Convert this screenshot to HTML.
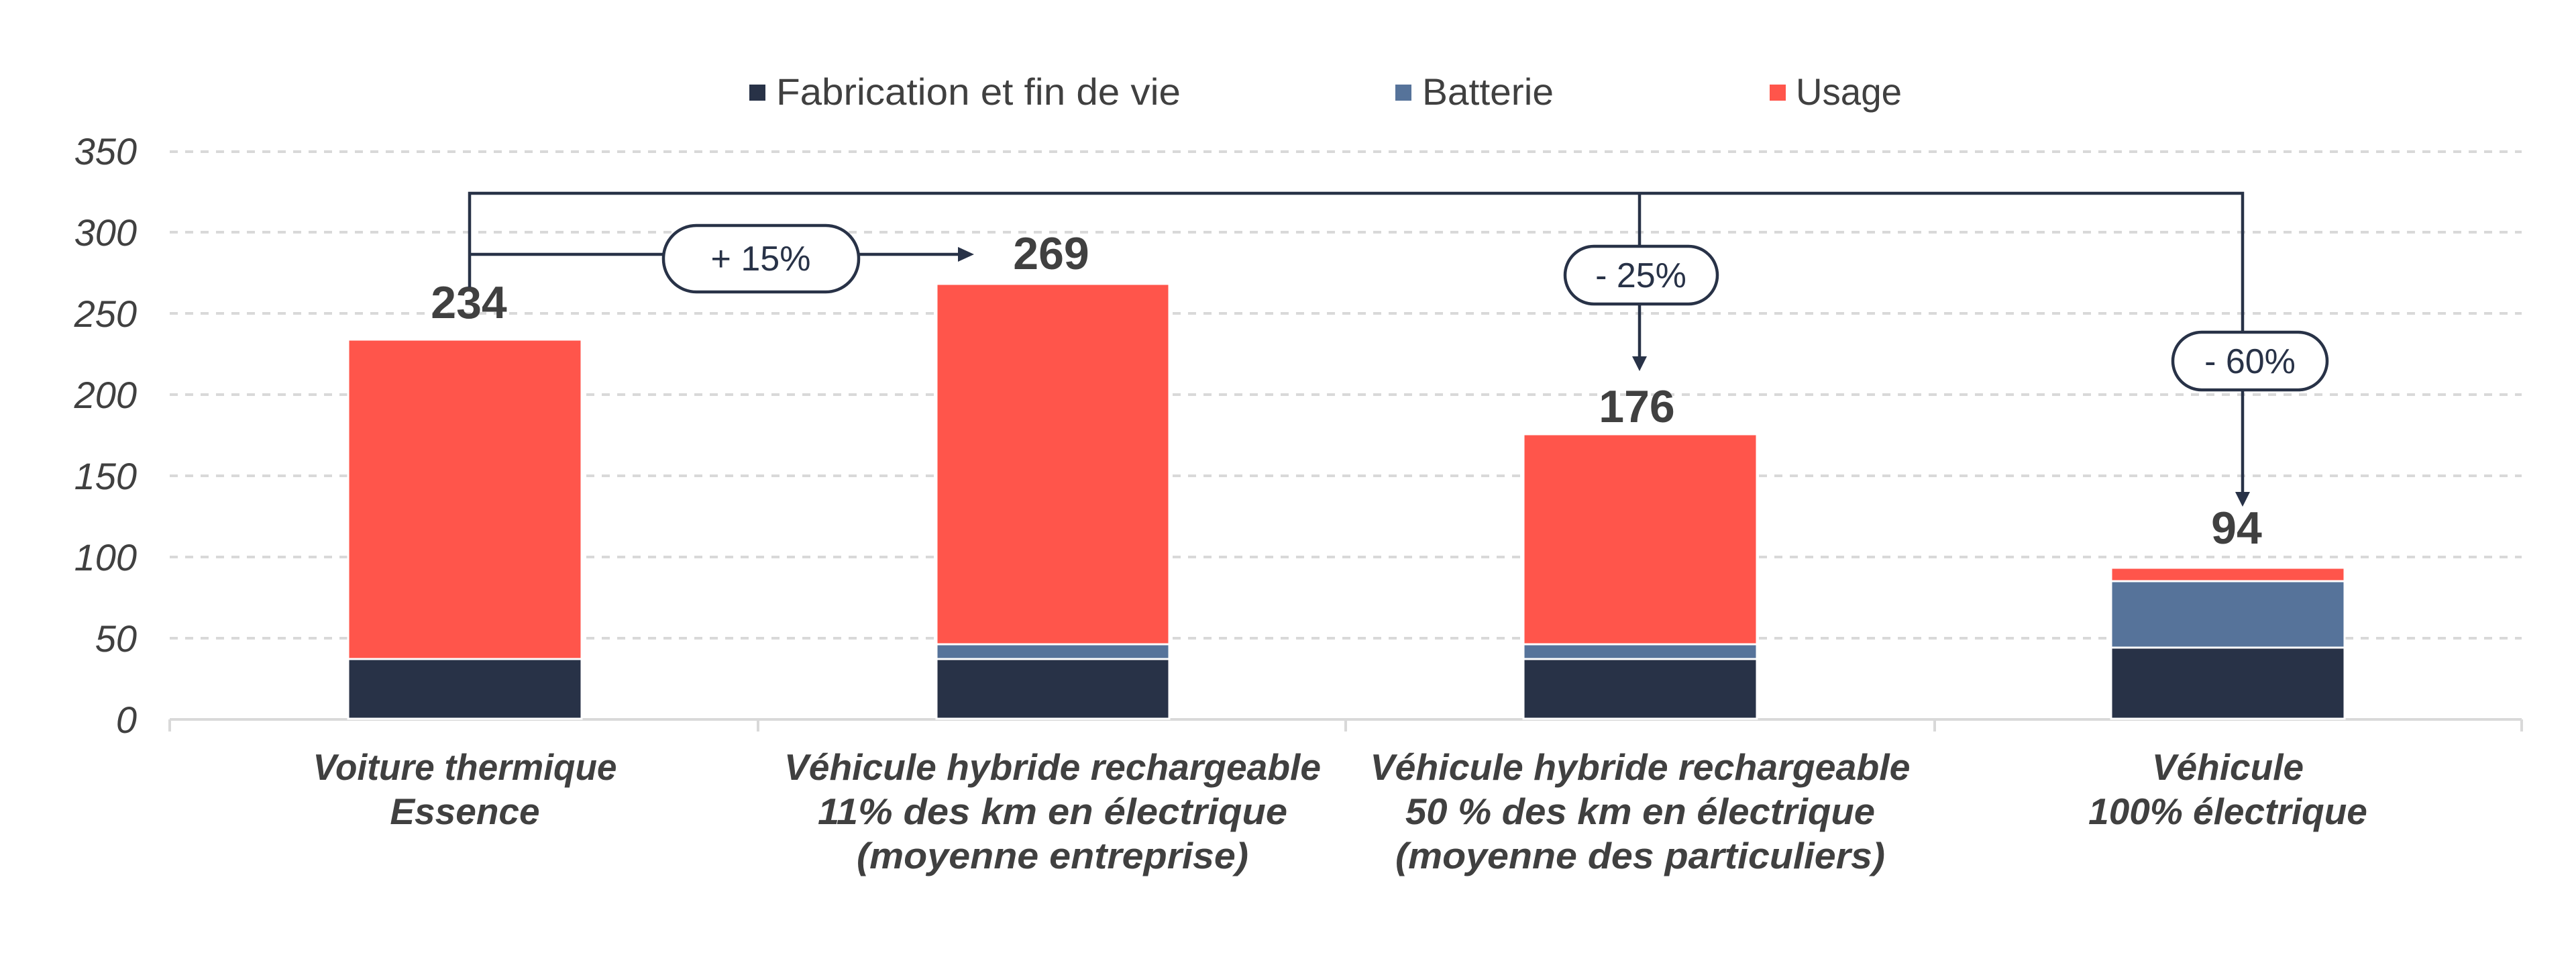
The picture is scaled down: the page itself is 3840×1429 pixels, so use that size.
<!DOCTYPE html>
<html><head><meta charset="utf-8"><style>
html,body{margin:0;padding:0;background:#fff;}
svg{display:block;}
</style></head><body>
<svg width="3840" height="1429" viewBox="0 0 3840 1429" xmlns="http://www.w3.org/2000/svg" font-family="Liberation Sans, sans-serif">
<rect width="3840" height="1429" fill="#fff"/>
<g stroke="#d9d9d9" stroke-width="4" stroke-dasharray="12,11">
<line x1="253" y1="226" x2="3759" y2="226"/>
<line x1="253" y1="346" x2="3759" y2="346"/>
<line x1="253" y1="467" x2="3759" y2="467"/>
<line x1="253" y1="588" x2="3759" y2="588"/>
<line x1="253" y1="709" x2="3759" y2="709"/>
<line x1="253" y1="830" x2="3759" y2="830"/>
<line x1="253" y1="951" x2="3759" y2="951"/>
</g>
<g stroke="#d9d9d9" stroke-width="4">
<line x1="253" y1="1072" x2="3759" y2="1072"/>
<line x1="253" y1="1072" x2="253" y2="1090"/>
<line x1="1130" y1="1072" x2="1130" y2="1090"/>
<line x1="2006" y1="1072" x2="2006" y2="1090"/>
<line x1="2884" y1="1072" x2="2884" y2="1090"/>
<line x1="3759" y1="1072" x2="3759" y2="1090"/>
</g>
<g fill="#404040" font-size="56" font-style="italic" text-anchor="end">
<text x="204" y="245">350</text>
<text x="204" y="366">300</text>
<text x="204" y="487">250</text>
<text x="204" y="608">200</text>
<text x="204" y="729">150</text>
<text x="204" y="850">100</text>
<text x="204" y="971">50</text>
<text x="204" y="1092">0</text>
</g>
<g stroke="#fff" stroke-width="3">
<rect x="519" y="982" width="348" height="89" fill="#283247"/>
<rect x="519" y="506" width="348" height="476" fill="#FF554B"/>
<rect x="1396" y="982" width="347" height="89" fill="#283247"/>
<rect x="1396" y="960" width="347" height="22" fill="#56739A"/>
<rect x="1396" y="423" width="347" height="537" fill="#FF554B"/>
<rect x="2271" y="982" width="348" height="89" fill="#283247"/>
<rect x="2271" y="960" width="348" height="22" fill="#56739A"/>
<rect x="2271" y="647" width="348" height="313" fill="#FF554B"/>
<rect x="3147" y="965" width="348" height="106" fill="#283247"/>
<rect x="3147" y="866" width="348" height="99" fill="#56739A"/>
<rect x="3147" y="846" width="348" height="20" fill="#FF554B"/>
</g>
<g fill="#404040" font-size="68" font-weight="bold" text-anchor="middle">
<text x="699" y="474">234</text>
<text x="1567" y="401">269</text>
<text x="2440" y="629">176</text>
<text x="3334" y="810">94</text>
</g>
<g stroke="#283247" stroke-width="4.5" fill="none">
<polyline points="700,428 700,288 3343,288 3343,740"/>
<line x1="700" y1="379" x2="1432" y2="379"/>
<line x1="2444" y1="288" x2="2444" y2="536"/>
</g>
<g fill="#283247">
<polygon points="1452,379 1428,368 1428,390"/>
<polygon points="2444,553 2433,531 2455,531"/>
<polygon points="3343,755 3332,733 3354,733"/>
</g>
<g stroke="#283247" stroke-width="4.5" fill="#fff">
<rect x="989" y="336" width="291" height="99" rx="49"/>
<rect x="2333" y="367" width="227" height="86" rx="43"/>
<rect x="3239" y="495" width="230" height="86" rx="43"/>
</g>
<g fill="#283247" font-size="52" text-anchor="middle">
<text x="1134" y="403">+ 15%</text>
<text x="2446" y="428">- 25%</text>
<text x="3354" y="556">- 60%</text>
</g>
<rect x="1117" y="126" width="24" height="24" fill="#283247"/>
<text x="1157" y="156" font-size="56" fill="#404040" textLength="603" lengthAdjust="spacingAndGlyphs">Fabrication et fin de vie</text>
<rect x="2080" y="126" width="24" height="24" fill="#56739A"/>
<text x="2120" y="156" font-size="56" fill="#404040" textLength="196" lengthAdjust="spacingAndGlyphs">Batterie</text>
<rect x="2638" y="126" width="24" height="24" fill="#FF554B"/>
<text x="2677" y="156" font-size="56" fill="#404040" textLength="158" lengthAdjust="spacingAndGlyphs">Usage</text>
<g fill="#404040" font-size="55" font-weight="bold" font-style="italic" text-anchor="middle">
<text x="693" y="1162" textLength="453" lengthAdjust="spacingAndGlyphs">Voiture thermique</text>
<text x="693" y="1228">Essence</text>
<text x="1569" y="1162" textLength="800" lengthAdjust="spacingAndGlyphs">Véhicule hybride rechargeable</text>
<text x="1569" y="1228" textLength="700" lengthAdjust="spacingAndGlyphs">11% des km en électrique</text>
<text x="1569" y="1294" textLength="584" lengthAdjust="spacingAndGlyphs">(moyenne entreprise)</text>
<text x="2445" y="1162" textLength="805" lengthAdjust="spacingAndGlyphs">Véhicule hybride rechargeable</text>
<text x="2445" y="1228" textLength="700" lengthAdjust="spacingAndGlyphs">50 % des km en électrique</text>
<text x="2445" y="1294" textLength="730" lengthAdjust="spacingAndGlyphs">(moyenne des particuliers)</text>
<text x="3321" y="1162">Véhicule</text>
<text x="3321" y="1228">100% électrique</text>
</g>
</svg>
</body></html>
